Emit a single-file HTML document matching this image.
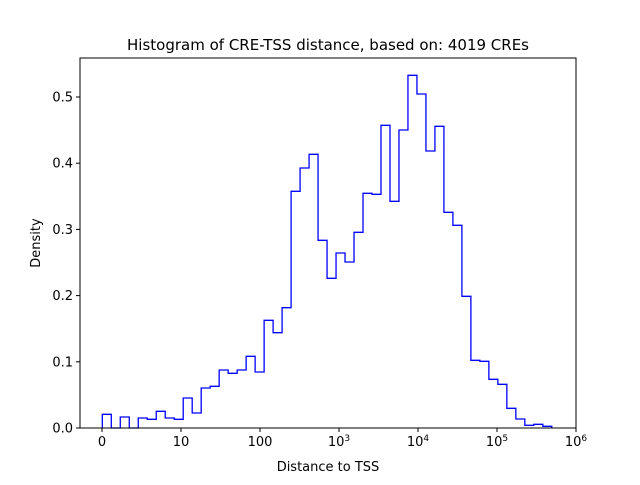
<!DOCTYPE html>
<html><head><meta charset="utf-8"><style>
body{margin:0;background:#fff}
text{font-family:"DejaVu Sans","Liberation Sans",sans-serif;fill:#000}
</style></head><body>
<svg width="640" height="480" viewBox="0 0 640 480" xmlns="http://www.w3.org/2000/svg">
<rect width="640" height="480" fill="#fff"/>
<path fill="none" stroke="#0000ff" stroke-width="1.3" d="M102.3,428 V414.3 H111.29 V428 H120.28 V417 H129.27 V428 H138.26 V418 H147.25 V419.3 H156.24 V411.3 H165.23 V418 H174.22 V419.3 H183.21 V398 H192.2 V413 H201.19 V388 H210.18 V386.3 H219.17 V370 H228.16 V373.3 H237.15 V370 H246.14 V356.3 H255.13 V372 H264.12 V320.3 H273.11 V332.7 H282.1 V307.7 H291.09 V191.3 H300.08 V168 H309.07 V154.3 H318.06 V240.3 H327.05 V278.3 H336.04 V253 H345.03 V262 H354.02 V232.3 H363.01 V193.3 H372 V194.3 H380.99 V125.3 H389.98 V201.3 H398.97 V130 H407.96 V75.3 H416.95 V94 H425.94 V151 H434.93 V126.3 H443.92 V212.3 H452.91 V225.3 H461.9 V296.3 H470.89 V360.3 H479.88 V361.3 H488.87 V379.3 H497.86 V384.3 H506.85 V408.3 H515.84 V419 H524.83 V425.3 H533.82 V424.3 H542.81 V426.3 H551.8 V428"/>
<rect x="80" y="58" width="496" height="370" fill="none" stroke="#000" stroke-width="1"/>
<g stroke="#000" stroke-width="1">
<line x1="102" y1="428" x2="102" y2="432"/><line x1="181" y1="428" x2="181" y2="432"/><line x1="260" y1="428" x2="260" y2="432"/><line x1="339" y1="428" x2="339" y2="432"/><line x1="418" y1="428" x2="418" y2="432"/><line x1="497" y1="428" x2="497" y2="432"/><line x1="576" y1="428" x2="576" y2="432"/>
<line x1="76" y1="428" x2="80" y2="428"/><line x1="76" y1="361.8" x2="80" y2="361.8"/><line x1="76" y1="295.6" x2="80" y2="295.6"/><line x1="76" y1="229.4" x2="80" y2="229.4"/><line x1="76" y1="163.2" x2="80" y2="163.2"/><line x1="76" y1="97" x2="80" y2="97"/>
</g>
<g font-size="13" text-anchor="end">
<text x="73" y="432.5">0.0</text><text x="73" y="366.3">0.1</text><text x="73" y="300.1">0.2</text><text x="73" y="233.9">0.3</text><text x="73" y="167.7">0.4</text><text x="73" y="101.5">0.5</text>
</g>
<g font-size="13" text-anchor="middle">
<text x="102" y="446">0</text><text x="181" y="446">10</text><text x="260" y="446">100</text>
<text x="339" y="446">10<tspan font-size="9" dy="-5">3</tspan></text>
<text x="418" y="446">10<tspan font-size="9" dy="-5">4</tspan></text>
<text x="497" y="446">10<tspan font-size="9" dy="-5">5</tspan></text>
<text x="576" y="446">10<tspan font-size="9" dy="-5">6</tspan></text>
<text x="328" y="471">Distance to TSS</text>
<text x="328" y="50" font-size="15">Histogram of CRE-TSS distance, based on: 4019 CREs</text>
<text x="0" y="0" transform="translate(40,243) rotate(-90)">Density</text>
</g>
</svg>
</body></html>
